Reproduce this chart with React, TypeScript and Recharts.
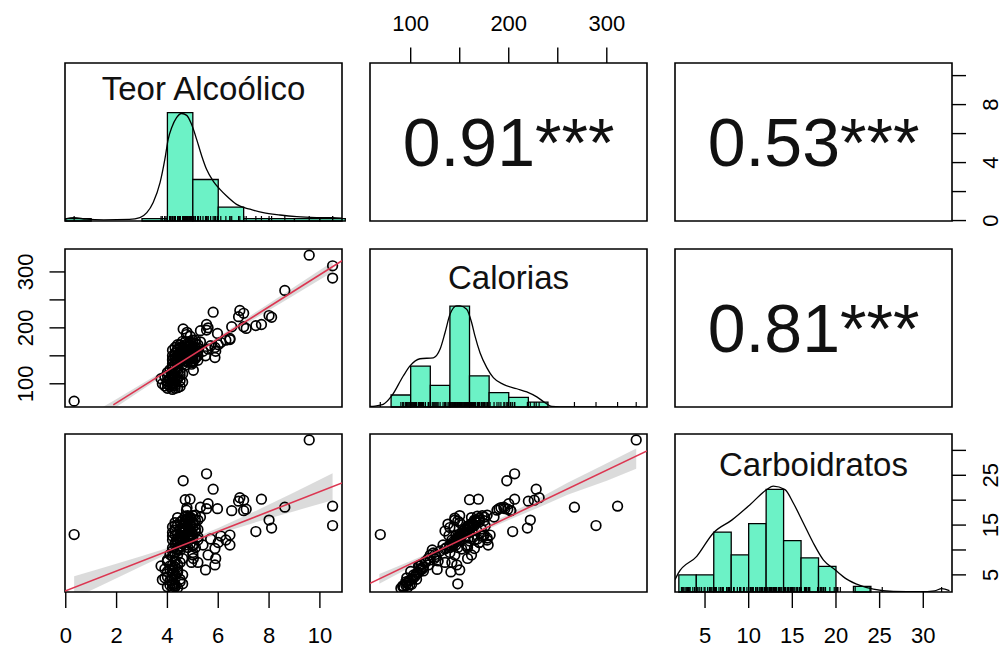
import React from 'react';
import { ComposedChart, XAxis, YAxis, Scatter, Line, Area, ReferenceArea } from 'recharts';

// ---------------- DATA ----------------
const variableNames = ['Teor Alcoólico', 'Calorias', 'Carboidratos'];
const correlationLabels = ['0.91***', '0.53***', '0.81***']; // (row1,col2), (row1,col3), (row2,col3)

const teorAlcoolico = [
  0.33, 9.58, 10.5, 10.5, 8.62, 8.0, 8.1, 7.48, 7.7, 6.85, 7.0, 6.8, 7.0, 6.53, 7.1, 5.8, 4.62, 5.54, 5.54, 4.89,
  6.46, 6.46, 5.9, 5.87, 5.87, 5.02, 4.77, 4.75, 5.3, 5.97, 4.9, 5.6, 4.7, 6.0, 6.3, 5.6, 5.4, 5.5, 5.2, 5.0,
  6.1, 5.7, 5.0, 5.1, 4.95, 4.6, 4.4,
  3.75, 3.8, 4.0, 4.1, 4.2, 4.2, 4.3, 4.4, 4.5, 4.2, 4.0, 4.3, 4.6, 4.1, 4.2, 4.4, 4.3, 4.2, 4.5, 4.0,
  4.2, 4.3, 4.4, 4.1, 3.9, 4.2, 4.4, 4.3,
  4.2, 4.3, 4.4, 4.5, 4.6, 4.7, 4.8, 4.9, 5.0, 5.1, 4.3, 4.4, 4.5, 4.6, 4.7, 4.8, 4.9, 5.0, 5.2, 5.3,
  4.2, 4.4, 4.5, 4.6, 4.7, 4.8, 4.9, 5.0, 5.1, 4.5, 4.6, 4.7, 4.8, 4.9, 5.0, 5.1, 5.2, 4.4, 4.3, 4.6,
  5.0, 5.2, 4.8, 4.9, 4.2,
  4.3, 4.5, 4.7, 4.9, 5.1, 4.4, 4.6, 4.8, 5.0, 4.2, 4.5, 4.7, 4.9, 5.1, 4.3, 4.6, 4.8, 5.0, 4.4, 4.7,
  4.5, 4.9, 4.6, 4.8, 5.2, 4.4, 4.2, 5.0, 4.7, 4.3,
  4.1, 4.3, 4.2, 3.9, 4.4, 4.5, 4.0, 4.2, 4.3, 4.6, 4.1, 4.4, 4.0, 4.5, 4.2,
];
const calorias = [
  69, 330, 311, 289, 267, 222, 219, 204, 206, 231, 226, 220, 202, 202, 199, 228, 198, 206, 196, 169,
  181, 179, 158, 147, 165, 124, 192, 188, 195, 190, 185, 200, 160, 170, 178, 162, 158, 150, 142, 140,
  174, 168, 145, 148, 135, 148, 141,
  109, 100, 92, 95, 96, 99, 97, 93, 95, 102, 104, 105, 103, 110, 110, 108, 113, 118, 115, 120,
  126, 123, 120, 108, 112, 130, 135, 128,
  136, 140, 143, 146, 149, 152, 155, 158, 161, 164, 145, 148, 151, 154, 157, 160, 163, 166, 170, 175,
  142, 150, 155, 158, 162, 166, 170, 173, 178, 140, 143, 146, 148, 151, 153, 156, 159, 160, 155, 165,
  146, 150, 140, 144, 150,
  150, 165, 140, 175, 145, 170, 135, 172, 138, 160, 158, 168, 148, 172, 146, 176, 145, 178, 162, 133,
  170, 139, 160, 150, 164, 152, 144, 157, 175, 165,
  98, 101, 106, 96, 111, 106, 115, 113, 92, 118, 125, 127, 100, 122, 90,
];
const carboidratos = [
  13.1, 32.1, 18.8, 14.9, 18.6, 16.0, 14.4, 13.7, 20.2, 20.5, 20.0, 19.8, 17.9, 17.9, 18.2, 22.2, 23.9, 25.3, 18.3, 20.2,
  13.0, 11.0, 8.3, 7.0, 10.3, 8.3, 18.5, 18.0, 18.6, 18.3, 16.6, 19.3, 20.1, 11.5, 12.0, 9.0, 11.0, 6.0, 7.5, 9.5,
  12.8, 12.2, 9.0, 10.5, 7.5, 3.2, 5.6,
  6.8, 4.0, 2.6, 2.9, 3.3, 3.0, 2.5, 2.4, 3.6, 4.2, 4.6, 4.9, 5.0, 6.0, 6.3, 5.5, 6.6, 7.0, 7.5, 8.0,
  8.7, 9.4, 9.0, 6.8, 6.2, 9.8, 10.2, 7.8,
  10.4, 11.0, 11.6, 12.0, 12.5, 13.0, 13.5, 14.0, 14.5, 15.0, 11.4, 12.4, 12.9, 13.4, 14.0, 14.6, 15.1, 15.6, 16.0, 16.6,
  12.0, 13.2, 14.2, 14.8, 15.3, 15.9, 16.4, 16.9, 17.0, 10.8, 11.2, 11.8, 12.2, 12.6, 13.1, 13.6, 14.1, 15.0, 14.0, 16.0,
  11.0, 12.0, 10.5, 11.3, 12.8,
  15.5, 12.0, 14.5, 13.0, 16.0, 11.5, 13.8, 12.8, 15.2, 13.5, 10.5, 16.8, 15.8, 14.2, 13.0, 14.8, 16.4, 12.4, 16.5, 11.0,
  15.6, 12.9, 11.8, 16.9, 12.6, 10.2, 14.6, 10.8, 15.9, 14.9,
  3.8, 3.1, 5.3, 4.4, 7.1, 4.1, 7.7, 5.8, 2.8, 8.3, 9.1, 6.1, 5.7, 10.0, 2.3,
];

// histograms (bin edges and counts)
const alcBinStart = [0, 3, 4, 5, 6, 7, 8, 9, 10];
const alcCounts = [1, 1, 47, 18, 6, 1, 1, 1, 1];
const alcBinWidth = 1;
const calBinStart = [80, 100, 120, 140, 160, 180, 200, 220];
const calCounts = [5, 17, 9, 42, 13, 6, 4, 2];
const calBinWidth = 20;
const carbBinStart = [2, 4, 6, 8, 10, 12, 14, 16, 18, 22];
const carbCounts = [6, 6, 21, 13, 24, 36, 18, 12, 9, 2];
const carbBinWidth = 2;
const histTop = [68.5, 65.8, 55.4];

// density curves
const alcDensX = [-0.03, 0.33, 0.8, 1.5, 2.5, 2.92, 3.19, 3.44, 3.71, 3.9, 4.03, 4.17, 4.36, 4.56, 4.76, 4.95, 5.15, 5.35, 5.54, 5.8, 6.07, 6.33, 6.72, 7.25, 7.77, 8.43, 9.09, 9.87, 10.5, 10.87];
const alcDensY = [0.9, 1.4, 0.8, 0.5, 0.7, 1.5, 3.6, 8.0, 16.6, 26.8, 35.4, 40.5, 44.8, 46.6, 45.8, 41.9, 35.4, 28.2, 22.4, 17.3, 13.7, 10.8, 7.2, 5.1, 3.6, 2.6, 1.9, 1.5, 1.4, 1.2];
const calDensX = [58.5, 63.6, 72.0, 80.6, 92.4, 99.3, 109.5, 123.1, 129.9, 135, 140.1, 146.9, 150.3, 157.1, 162.2, 165.6, 170.7, 177.6, 184.3, 194.5, 208.2, 218.4, 228.6, 237, 243.9, 252.3, 334];
const calDensY = [0.2, 0.4, 1.1, 4.6, 12.9, 17.1, 20.1, 20.5, 24.0, 30.9, 38.6, 42.1, 42.1, 40.7, 35.1, 29.5, 22.6, 16.4, 12.2, 9.4, 7.6, 6.3, 4.2, 1.8, 0.2, 0.05, 0.05];
const carbDensX = [1.56, 1.94, 4.05, 5.95, 8.06, 10.15, 12.06, 12.82, 14.16, 15.11, 16.26, 17.4, 18.55, 19.89, 21.23, 22.75, 24.28, 26.57, 29.6, 31.3, 32.1, 33.0];
const carbDensY = [4.3, 6.6, 12.5, 20.7, 25.2, 30.6, 35.9, 37.1, 35.9, 31.2, 24.2, 17.2, 11.3, 7.8, 4.5, 2.3, 1.0, 0.2, 0.1, 0.4, 1.2, 0.5];

// fitted lines (two end points) and confidence bands
const fitAlcCalX = [1.87, 10.87];
const fitAlcCalY = [62.3, 320];
const bandAlcCalX = [0.33, 2, 4, 5, 6, 8, 10.5];
const bandAlcCalLo = [8.3, 59, 119.2, 148.8, 176.9, 231.6, 300.1];
const bandAlcCalHi = [28.3, 73, 127.2, 154.8, 183.9, 243.6, 318.1];

const fitAlcCarbX = [-0.03, 10.87];
const fitAlcCarbY = [1.76, 23.45];
const bandAlcCarbX = [0.33, 1.5, 3, 4, 5, 6, 7.5, 9, 10.5];
const bandAlcCarbLo = [0.3, 3.1, 6.8, 9.2, 11.3, 13.2, 15.6, 17.8, 20.0];
const bandAlcCarbHi = [4.7, 6.5, 8.8, 10.4, 12.3, 14.4, 17.9, 21.6, 25.4];

const fitCalCarbX = [58.5, 341];
const fitCalCarbY = [3.3, 29.9];
const bandCalCarbX = [68, 100, 130, 150, 170, 200, 230, 260, 300, 330];
const bandCalCarbLo = [3.2, 6.6, 9.6, 11.6, 13.4, 16.0, 18.5, 21.1, 23.9, 26.3];
const bandCalCarbHi = [5.2, 7.8, 10.4, 12.3, 14.2, 17.2, 20.3, 23.5, 27.4, 30.4];

// axes
const alcDomain = [-0.03, 10.87];
const calDomain = [58.5, 341];
const carbDomain = [1.56, 33.29];
const alcTicks = [0, 2, 4, 6, 8, 10];
const alcRightLabels = [0, 4, 8];
const calTicks = [100, 150, 200, 250, 300];
const calLabels = [100, 200, 300];
const carbTicks = [5, 10, 15, 20, 25, 30];
const carbRightLabels = [5, 15, 25];

// ---------------- LAYOUT / STYLE ----------------
const FONT = '"Liberation Sans", Arial, Helvetica, sans-serif';
const HIST_FILL = '#6CF2C6';
const FIT_RED = '#DC3651';
const BAND_FILL = '#bdbdbd';
const W = 277;
const H = 158;
const M = 70;
const AX = 1; // thickness given to a visible axis
const COL_X = [65, 370, 675];
const ROW_Y = [63, 249, 434];
const TITLE_OFFSET = [14, 17, 19];

const pts = (xs: number[], ys: number[]) => xs.map((x, i) => ({ x, y: ys[i] }));
const bandPts = (xs: number[], lo: number[], hi: number[]) => xs.map((x, i) => ({ x, band: [lo[i], hi[i]] }));

function makeTick(side: 'top' | 'bottom' | 'left' | 'right', labels: number[]) {
  return (props: any) => {
    const { x, y, payload } = props;
    if (!labels.includes(payload.value)) return <g />;
    const common = { fontSize: 22, fontFamily: FONT, fill: '#000', textAnchor: 'middle' as const };
    if (side === 'bottom') return <text {...common} x={x} y={y + 35}>{payload.value}</text>;
    if (side === 'top') return <text {...common} x={x} y={y - 17}>{payload.value}</text>;
    if (side === 'left') {
      const bx = x - 16.5;
      return <text {...common} x={bx} y={y} transform={`rotate(-90 ${bx} ${y})`}>{payload.value}</text>;
    }
    const bx = x + 32;
    return <text {...common} x={bx} y={y} transform={`rotate(-90 ${bx} ${y})`}>{payload.value}</text>;
  };
}

const tickLineStyle = { stroke: '#000', strokeWidth: 1.4 };

const OpenCircle = (p: any) => <circle cx={p.cx} cy={p.cy} r={4.8} fill="none" stroke="#000" strokeWidth={1.7} />;
const RugTick = (p: any) => <line x1={p.cx} x2={p.cx} y1={p.cy} y2={p.cy - 5} stroke="#000" strokeWidth={1.2} />;

type Sides = { top?: boolean; right?: boolean; bottom?: boolean; left?: boolean };

function Panel({ row, col, axes = {}, children }: { row: number; col: number; axes?: Sides; children: React.ReactNode }) {
  const margin = {
    top: M - (axes.top ? AX : 0),
    right: M - (axes.right ? AX : 0),
    bottom: M - (axes.bottom ? AX : 0),
    left: M - (axes.left ? AX : 0),
  };
  return (
    <div style={{ position: 'absolute', left: COL_X[col] - M, top: ROW_Y[row] - M, width: W + 2 * M, height: H + 2 * M }}>
      <ComposedChart width={W + 2 * M} height={H + 2 * M} margin={margin}>
        {children}
      </ComposedChart>
    </div>
  );
}

function Box({ x, y, label, fontSize, position, offset }: any) {
  return (
    <ReferenceArea
      x1={x[0]} x2={x[1]} y1={y[0]} y2={y[1]}
      fill="none" stroke="#000" strokeWidth={1.6} ifOverflow="visible"
      label={label ? { value: label, position, offset, fontSize, fill: '#111', fontFamily: FONT } : undefined}
    />
  );
}

function histPanel(row: number, col: number, domain: number[], starts: number[], counts: number[], width: number,
  densX: number[], densY: number[], values: number[], extra: React.ReactNode, axes: Sides = {}) {
  const top = histTop[col];
  return (
    <Panel row={row} col={col} axes={axes}>
      {extra}
      <YAxis type="number" dataKey="y" domain={[0, top]} allowDataOverflow hide />
      {starts.map((s, i) => (
        <ReferenceArea key={i} x1={s} x2={s + width} y1={0} y2={counts[i]} fill={HIST_FILL} fillOpacity={1}
          stroke="#000" strokeWidth={1.3} ifOverflow="visible" />
      ))}
      <Line data={pts(densX, densY)} dataKey="y" type="monotone" stroke="#000" strokeWidth={1.3} dot={false} isAnimationActive={false} />
      <Scatter data={values.map((v) => ({ x: v, y: 0 }))} dataKey="y" shape={RugTick} isAnimationActive={false} />
      <Box x={domain} y={[0, top]} label={variableNames[col]} fontSize={33} position="insideTop" offset={TITLE_OFFSET[col]} />
    </Panel>
  );
}

export default function App() {
  return (
    <div style={{ position: 'absolute', left: 0, top: 0, width: 1004, height: 647, background: '#fff', overflow: 'hidden' }}>
      {/* Row 1 */}
      {histPanel(0, 0, alcDomain, alcBinStart, alcCounts, alcBinWidth, alcDensX, alcDensY, teorAlcoolico,
        <XAxis type="number" dataKey="x" domain={alcDomain} allowDataOverflow hide />)}

      <Panel row={0} col={1} axes={{ top: true }}>
        <XAxis type="number" dataKey="x" domain={calDomain} allowDataOverflow orientation="top" height={AX}
          ticks={calTicks} interval={0} tickSize={15.5} tickMargin={0} axisLine={false} tickLine={tickLineStyle}
          tick={makeTick('top', calLabels)} />
        <YAxis type="number" dataKey="y" domain={[0, 1]} allowDataOverflow hide />
        <Box x={calDomain} y={[0, 1]} label={correlationLabels[0]} fontSize={68} position="center" />
      </Panel>

      <Panel row={0} col={2} axes={{ right: true }}>
        <XAxis type="number" dataKey="x" domain={[0, 1]} allowDataOverflow hide />
        <YAxis type="number" dataKey="y" domain={alcDomain} allowDataOverflow orientation="right" width={AX}
          ticks={alcTicks} interval={0} tickSize={14} tickMargin={0} axisLine={false} tickLine={tickLineStyle}
          tick={makeTick('right', alcRightLabels)} />
        <Box x={[0, 1]} y={alcDomain} label={correlationLabels[1]} fontSize={68} position="center" />
      </Panel>

      {/* Row 2 */}
      <Panel row={1} col={0} axes={{ left: true }}>
        <XAxis type="number" dataKey="x" domain={alcDomain} allowDataOverflow hide />
        <YAxis type="number" dataKey="y" domain={calDomain} allowDataOverflow orientation="left" width={AX}
          ticks={calTicks} interval={0} tickSize={15.5} tickMargin={0} axisLine={false} tickLine={tickLineStyle}
          tick={makeTick('left', calLabels)} />
        <Area data={bandPts(bandAlcCalX, bandAlcCalLo, bandAlcCalHi)} dataKey="band" type="linear" stroke="none"
          fill={BAND_FILL} fillOpacity={0.55} isAnimationActive={false} />
        <Scatter data={pts(teorAlcoolico, calorias)} dataKey="y" shape={OpenCircle} isAnimationActive={false} />
        <Line data={pts(fitAlcCalX, fitAlcCalY)} dataKey="y" type="linear" stroke={FIT_RED} strokeWidth={1.6}
          dot={false} isAnimationActive={false} zIndex={700} />
        <Box x={alcDomain} y={calDomain} />
      </Panel>

      {histPanel(1, 1, calDomain, calBinStart, calCounts, calBinWidth, calDensX, calDensY, calorias,
        <XAxis type="number" dataKey="x" domain={calDomain} allowDataOverflow hide />)}

      <Panel row={1} col={2}>
        <XAxis type="number" dataKey="x" domain={[0, 1]} allowDataOverflow hide />
        <YAxis type="number" dataKey="y" domain={[0, 1]} allowDataOverflow hide />
        <Box x={[0, 1]} y={[0, 1]} label={correlationLabels[2]} fontSize={68} position="center" />
      </Panel>

      {/* Row 3 */}
      <Panel row={2} col={0} axes={{ bottom: true }}>
        <XAxis type="number" dataKey="x" domain={alcDomain} allowDataOverflow orientation="bottom" height={AX}
          ticks={alcTicks} interval={0} tickSize={16} tickMargin={0} axisLine={false} tickLine={tickLineStyle}
          tick={makeTick('bottom', alcTicks)} />
        <YAxis type="number" dataKey="y" domain={carbDomain} allowDataOverflow hide />
        <Area data={bandPts(bandAlcCarbX, bandAlcCarbLo, bandAlcCarbHi)} dataKey="band" type="linear" stroke="none"
          fill={BAND_FILL} fillOpacity={0.55} isAnimationActive={false} />
        <Scatter data={pts(teorAlcoolico, carboidratos)} dataKey="y" shape={OpenCircle} isAnimationActive={false} />
        <Line data={pts(fitAlcCarbX, fitAlcCarbY)} dataKey="y" type="linear" stroke={FIT_RED} strokeWidth={1.6}
          dot={false} isAnimationActive={false} zIndex={700} />
        <Box x={alcDomain} y={carbDomain} />
      </Panel>

      <Panel row={2} col={1}>
        <XAxis type="number" dataKey="x" domain={calDomain} allowDataOverflow hide />
        <YAxis type="number" dataKey="y" domain={carbDomain} allowDataOverflow hide />
        <Area data={bandPts(bandCalCarbX, bandCalCarbLo, bandCalCarbHi)} dataKey="band" type="linear" stroke="none"
          fill={BAND_FILL} fillOpacity={0.55} isAnimationActive={false} />
        <Scatter data={pts(calorias, carboidratos)} dataKey="y" shape={OpenCircle} isAnimationActive={false} />
        <Line data={pts(fitCalCarbX, fitCalCarbY)} dataKey="y" type="linear" stroke={FIT_RED} strokeWidth={1.6}
          dot={false} isAnimationActive={false} zIndex={700} />
        <Box x={calDomain} y={carbDomain} />
      </Panel>

      {histPanel(2, 2, carbDomain, carbBinStart, carbCounts, carbBinWidth, carbDensX, carbDensY, carboidratos,
        <>
          <XAxis type="number" dataKey="x" domain={carbDomain} allowDataOverflow orientation="bottom" height={AX}
            ticks={carbTicks} interval={0} tickSize={16} tickMargin={0} axisLine={false} tickLine={tickLineStyle}
            tick={makeTick('bottom', carbTicks)} />
          <YAxis yAxisId="r" type="number" domain={carbDomain} allowDataOverflow orientation="right" width={AX}
            ticks={carbTicks} interval={0} tickSize={14} tickMargin={0} axisLine={false} tickLine={tickLineStyle}
            tick={makeTick('right', carbRightLabels)} />
        </>, { bottom: true, right: true })}
    </div>
  );
}
